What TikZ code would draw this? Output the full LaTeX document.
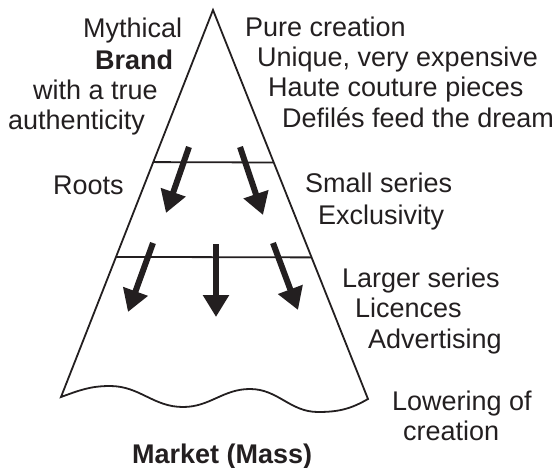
\documentclass[tikz,border=0pt]{standalone}
\usepackage{fontspec}
\setmainfont{Liberation Sans}
\usetikzlibrary{arrows.meta,calc}
\definecolor{ink}{HTML}{231F20}
\begin{document}
\begin{tikzpicture}[x=1pt,y=1pt,
  txt/.style={anchor=base west, inner sep=0pt, font=\fontsize{27}{30}\selectfont, text=ink},
  outline/.style={line width=1.8pt, draw=ink, line join=miter},
  divider/.style={line width=1.8pt, draw=ink},
  bigarrow/.style={line width=6pt, draw=ink, -{Triangle[length=22pt,width=25pt]}}]
\useasboundingbox (0,0) rectangle (560,-468);
% pyramid
\coordinate (apex) at (213,-10);
\coordinate (bl) at (61,-397);
\coordinate (br) at (368,-399);
\draw[outline] (apex) -- (br)
  to[out=210,in=0] (318,-412)
  to[out=180,in=0] (250,-389)
  to[out=180,in=0] (183,-407)
  to[out=180,in=0] (110,-386)
  to[out=180,in=20] (bl) -- cycle;
% dividers
\coordinate (d1l) at ($(apex)!0.393!(bl)$);
\coordinate (d1r) at ($(apex)!0.392!(br)$);
\coordinate (d2l) at ($(apex)!0.638!(bl)$);
\coordinate (d2r) at ($(apex)!0.636!(br)$);
\draw[divider] (d1l) -- (d1r);
\draw[divider] (d2l) -- (d2r);
% arrows
\coordinate (a1s) at (189,-147); \coordinate (a1e) at (166,-213);
\coordinate (a2s) at (240,-147); \coordinate (a2e) at (263,-215);
\coordinate (a3s) at (153,-243); \coordinate (a3e) at (128,-312);
\coordinate (a4s) at (216,-244); \coordinate (a4e) at (216,-317);
\coordinate (a5s) at (273,-243); \coordinate (a5e) at (298,-310);
\draw[bigarrow] (a1s) -- (a1e);
\draw[bigarrow] (a2s) -- (a2e);
\draw[bigarrow] (a3s) -- (a3e);
\draw[bigarrow] (a4s) -- (a4e);
\draw[bigarrow] (a5s) -- (a5e);
% left texts
\node[txt] (t1) at (83,-38) {Mythical};
\node[txt] (t2) at (95,-70) {\bfseries Brand};
\node[txt] (t3) at (33,-100) {with a true};
\node[txt] (t4) at (8,-130) {authenticity};
\node[txt] (roots) at (53,-195) {Roots};
% right texts
\node[txt] (r1) at (245,-37) {Pure creation};
\node[txt] (r2) at (257,-67) {Unique, very expensive};
\node[txt] (r3) at (268,-97) {Haute couture pieces};
\node[txt] (r4) at (282,-128) {Defilés feed the dream};
\node[txt] (s1) at (305,-193) {Small series};
\node[txt] (s2) at (318,-225) {Exclusivity};
\node[txt] (g1) at (342,-287) {Larger series};
\node[txt] (g2) at (355,-317) {Licences};
\node[txt] (g3) at (368,-348) {Advertising};
\node[txt] (w1) at (392,-410) {Lowering of};
\node[txt] (w2) at (403,-440) {creation};
\node[txt] (mkt) at (132,-463) {\bfseries Market (Mass)};
\end{tikzpicture}
\end{document}
